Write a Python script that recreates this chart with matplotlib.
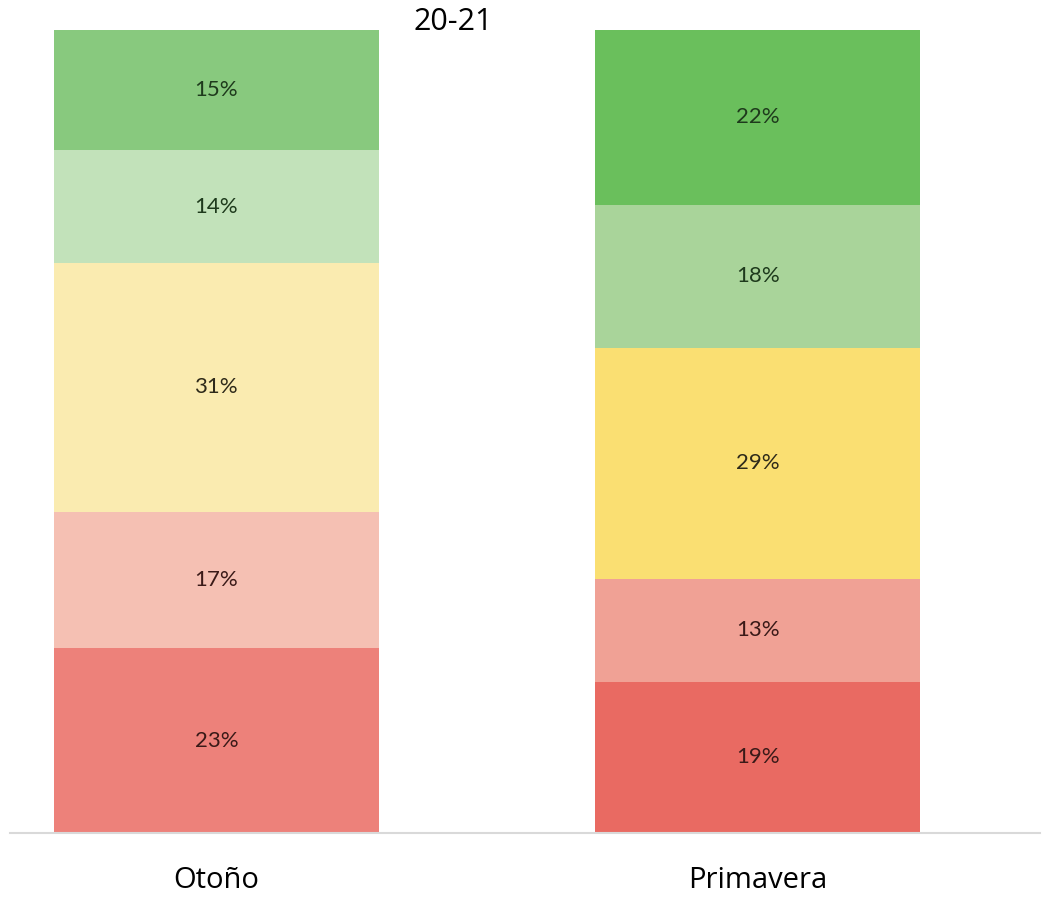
import matplotlib
matplotlib.use("Agg")
import matplotlib.pyplot as plt
import numpy as np

categories = ["Otoño", "Primavera"]
title = "20-21"
# segments from bottom to top
otono = [23, 17, 31, 14, 15]
primavera = [19, 13, 29, 18, 22]
otono_colors = ["#ED817A", "#F5C0B3", "#FAEBB0", "#C2E2BA", "#88C97E"]
primavera_colors = ["#E96A62", "#F0A195", "#FADF72", "#A9D49A", "#6ABF5C"]
text_colors = ["#3a1a18", "#3a1a18", "#2e2a1a", "#1e3a1c", "#1e3a1c"]

plt.rcParams['font.family'] = ['Open Sans', 'DejaVu Sans']

fig = plt.figure(figsize=(10.45, 8.97), dpi=100)
ax = fig.add_axes([10/1045, 64/897, 1030/1045, 803/897])

series = [otono, primavera]
colors = [otono_colors, primavera_colors]
x = np.arange(len(categories))
for i, (vals, cols) in enumerate(zip(series, colors)):
    vals = np.array(vals, dtype=float)
    norm = vals / vals.sum() * 100
    bottom = 0.0
    for v, n, c, tc in zip(vals, norm, cols, text_colors):
        ax.bar(x[i], n, bottom=bottom, width=0.6, color=c, edgecolor='none')
        ax.text(x[i], bottom + n / 2, f"{int(v)}%", ha='center', va='center',
                fontsize=16, color=tc, family=['Lato', 'DejaVu Sans'])
        bottom += n

ax.set_xlim(-0.381, 1.521)
ax.set_ylim(0, 100)
for s in ['top', 'right', 'left']:
    ax.spines[s].set_visible(False)
ax.spines['bottom'].set_color('#d9d9d9')
ax.spines['bottom'].set_linewidth(1.5)
ax.set_yticks([])
ax.set_xticks(x)
ax.set_xticklabels(categories, fontsize=21, color='black')
ax.tick_params(axis='x', length=0, pad=24)

fig.text(453/1045, 1 - 22/897, title, ha='center', va='center', fontsize=22, color='black')

fig.savefig("out.png", dpi=100, facecolor='white')
